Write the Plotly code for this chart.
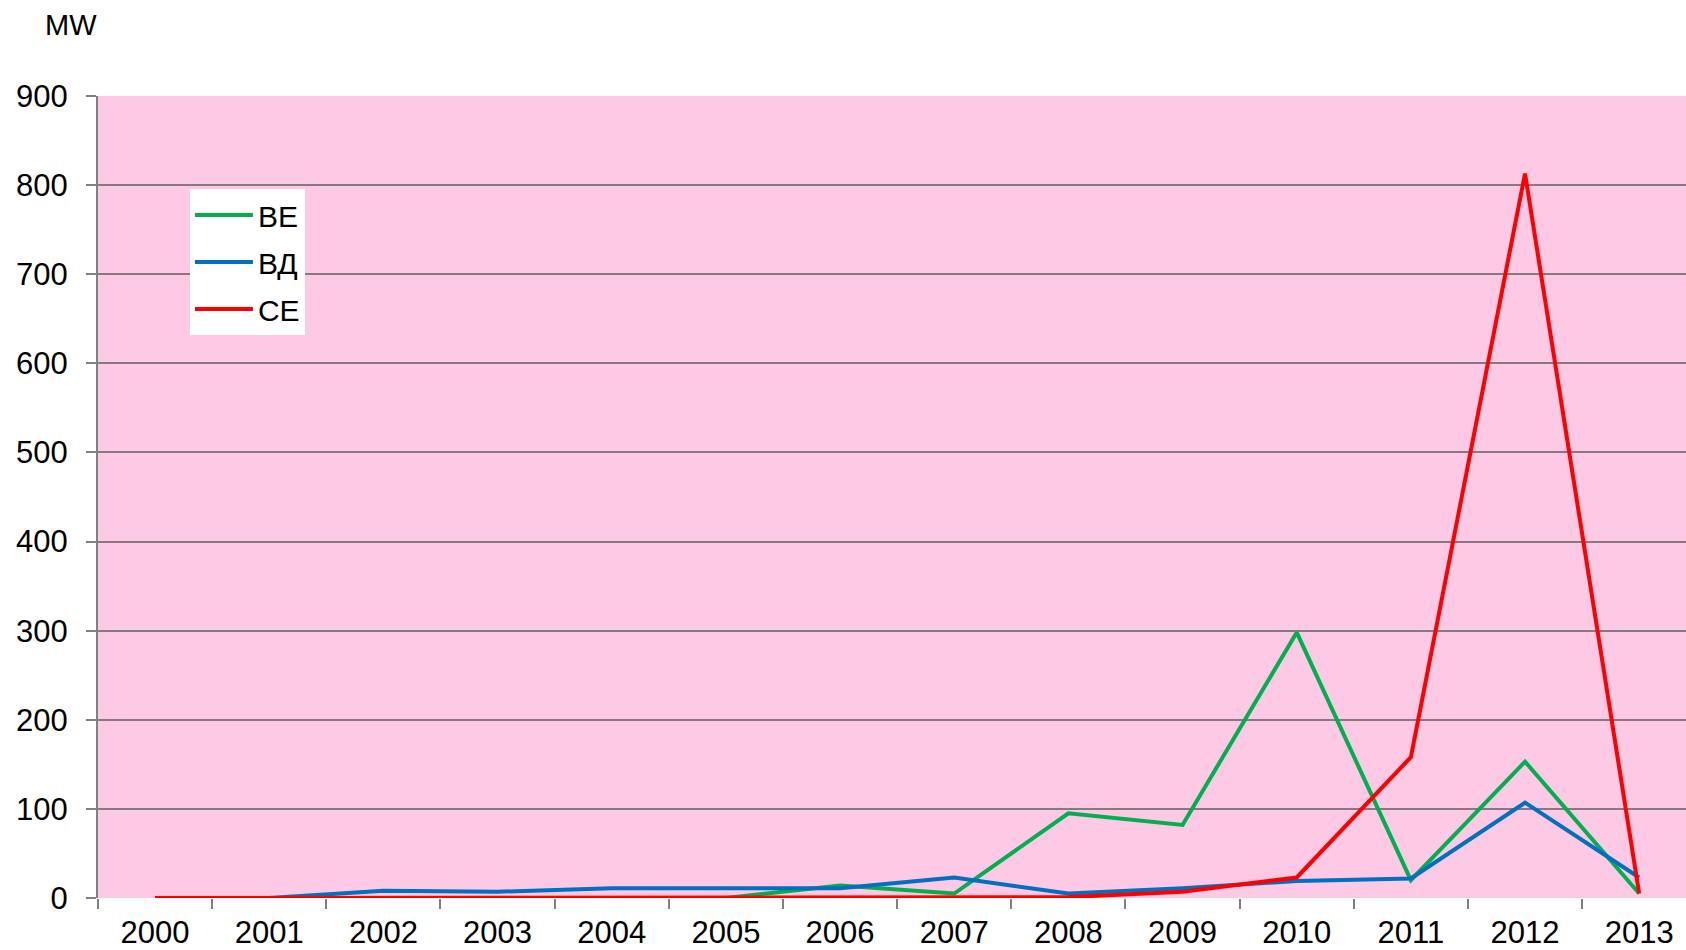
import plotly.graph_objects as go

years = ["2000", "2001", "2002", "2003", "2004", "2005", "2006",
         "2007", "2008", "2009", "2010", "2011", "2012", "2013"]
be_values = [0, 0, 0, 0, 0, 0, 14, 5, 95, 82, 298, 20, 153, 5]
vd_values = [0, 0, 8, 7, 11, 11, 11, 23, 5, 11, 19, 22, 107, 23]
se_values = [0, 0, 0, 0, 0, 0, 0, 0, 1, 7, 23, 158, 813, 5]
y_ticks = [0, 100, 200, 300, 400, 500, 600, 700, 800, 900]

series = [
    ("ВЕ", be_values, "#00B050"),
    ("ВД", vd_values, "#0070C0"),
    ("СЕ", se_values, "#FF0000"),
]

FONT = "Liberation Sans, Arial, sans-serif"

fig = go.Figure()
for name, vals, color in series:
    fig.add_trace(go.Scatter(
        x=years, y=vals, name=name, mode="lines",
        line=dict(color=color, width=4),
        legendgroup=name,
    ))

fig.update_layout(
    width=1686, height=950,
    autosize=False,
    margin=dict(l=98, r=0, t=96, b=52, autoexpand=False),
    paper_bgcolor="white",
    plot_bgcolor="#FDC9E4",
    font=dict(family=FONT, size=31, color="black"),
    showlegend=True,
    legend=dict(
        x=0.0579, y=0.884, xanchor="left", yanchor="top",
        bgcolor="white", borderwidth=0,
        font=dict(family=FONT, size=30, color="black"),
        tracegroupgap=5,
        traceorder="grouped",
        itemwidth=58,
    ),
    annotations=[dict(
        text="MW", xref="paper", yref="paper",
        x=-0.0167, y=1.0885, xanchor="center", yanchor="middle",
        showarrow=False, font=dict(family=FONT, size=29, color="black"),
    )],
)

fig.update_xaxes(
    type="category",
    range=[-0.5, 13.41],
    tickson="boundaries",
    ticks="outside", ticklen=10, tickwidth=1.5, tickcolor="#808080",
    showgrid=False,
    showline=False,
    zeroline=False,
    automargin=False,
    tickfont=dict(family=FONT, size=31, color="black"),
    ticklabelstandoff=13,
)

fig.update_yaxes(
    range=[0, 900],
    tickvals=y_ticks,
    ticks="outside", ticklen=10, tickwidth=1.5, tickcolor="#808080",
    showgrid=True, gridcolor="#857a80", gridwidth=2,
    showline=True, linecolor="#808080", linewidth=2,
    zeroline=False,
    automargin=False,
    tickfont=dict(family=FONT, size=31, color="black"),
    ticklabelstandoff=12,
)

fig.write_html(
    "out.html",
    config={"displayModeBar": False},
    post_script="document.body.style.margin='0';document.body.style.overflow='hidden';",
)
